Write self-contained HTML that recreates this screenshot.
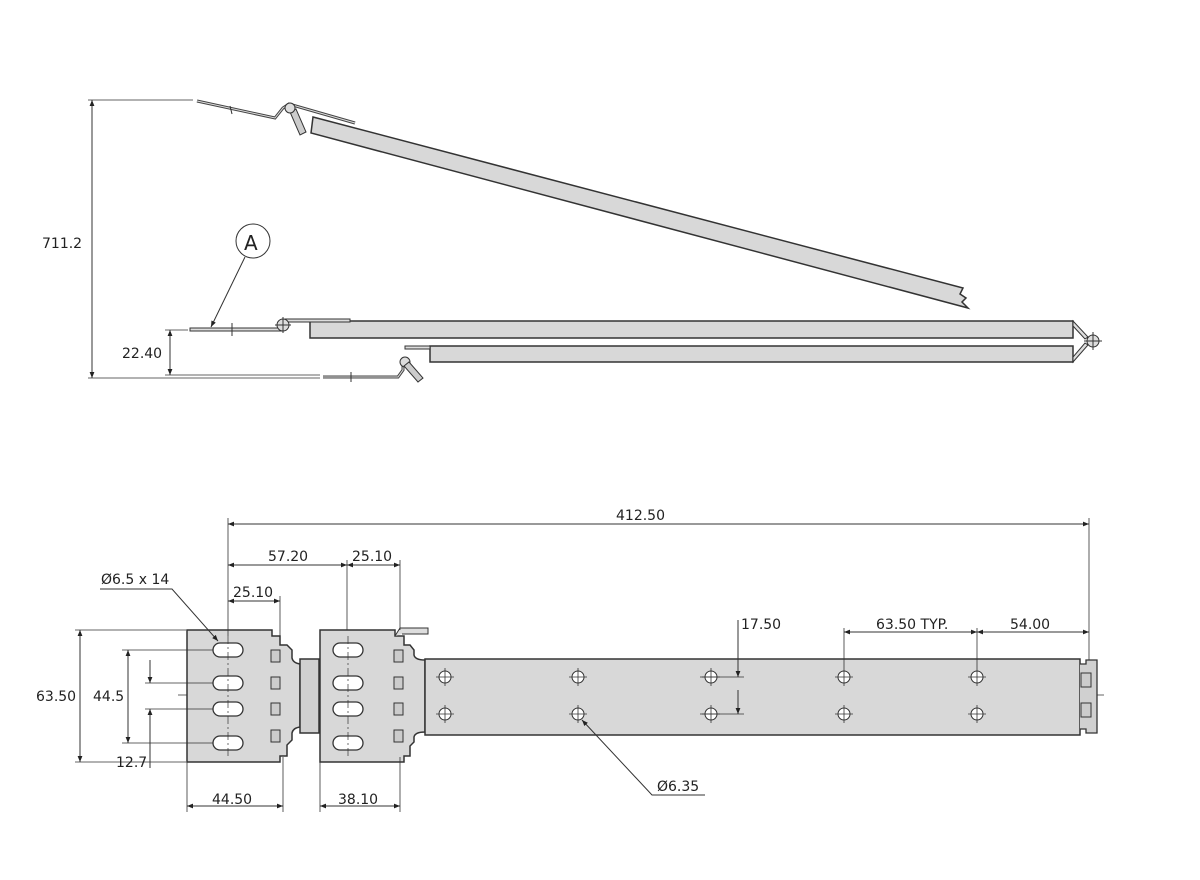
<!DOCTYPE html>
<html><head><meta charset="utf-8"><style>
html,body{margin:0;padding:0;background:#fff;}
svg{display:block;}
text{font-family:"DejaVu Sans","Liberation Sans",sans-serif;font-size:14px;fill:#222;}
</style></head><body>
<svg width="1200" height="880" viewBox="0 0 1200 880" xmlns="http://www.w3.org/2000/svg">
<defs>
<marker id="a" viewBox="0 0 10 10" refX="10" refY="5" markerWidth="8" markerHeight="6" orient="auto-start-reverse" markerUnits="userSpaceOnUse"><path d="M0,1 L10,5 L0,9 z" fill="#222"/></marker>
</defs>
<g stroke="#333" stroke-width="1" fill="none">
<!-- ===== TOP VIEW ===== -->
<!-- sloped rail -->
<polygon points="313,117 963,288 960,294 966,298 962,302 968,308 311,133" fill="#d8d8d8" stroke="#333" stroke-width="1.5"/>
<polyline points="197,101 275,118 283,108 289,104 355,123" stroke-width="3" stroke="#444"/>
<polyline points="197,101 275,118 283,108 289,104 355,123" stroke-width="1" stroke="#ddd"/>
<polygon points="290,112 296,109 306,132 300,135" fill="#ccc"/>
<circle cx="290" cy="108" r="5" fill="#ddd"/>
<line x1="230" y1="106" x2="232" y2="114"/>
<!-- middle rail -->
<rect x="310" y="321" width="763" height="17" fill="#d8d8d8" stroke-width="1.5"/>
<rect x="285" y="319" width="65" height="3" fill="#ddd"/>
<rect x="190" y="328" width="92" height="3" fill="#ddd"/>
<line x1="232" y1="323" x2="232" y2="336"/>
<circle cx="283" cy="325" r="6" fill="#ddd"/>
<line x1="275" y1="325" x2="291" y2="325"/><line x1="283" y1="317" x2="283" y2="333"/>
<!-- bottom rail -->
<rect x="430" y="346" width="643" height="16" fill="#d8d8d8" stroke-width="1.5"/>
<rect x="405" y="346" width="25" height="3" fill="#ddd"/>
<polyline points="323,377 398,377 403,370 403,360" stroke-width="3" stroke="#444"/>
<polyline points="323,377 398,377 403,370 403,360" stroke-width="1" stroke="#ddd"/>
<line x1="351" y1="372" x2="351" y2="382"/>
<circle cx="405" cy="362" r="5" fill="#ddd"/>
<polygon points="404,366 409,362 423,378 418,382" fill="#ccc"/>
<!-- right end -->
<polygon points="1073,321 1088,337 1085,339 1073,326" fill="#ddd"/>
<polygon points="1073,362 1088,345 1085,343 1073,357" fill="#ddd"/>
<circle cx="1093" cy="341" r="6" fill="#ddd"/>
<line x1="1084" y1="341" x2="1102" y2="341"/><line x1="1093" y1="332" x2="1093" y2="350"/>
<!-- dims top -->
<line x1="88" y1="100" x2="193" y2="100" stroke-width="0.8"/>
<line x1="88" y1="378" x2="320" y2="378" stroke-width="0.8"/>
<line x1="92" y1="100" x2="92" y2="378" marker-start="url(#a)" marker-end="url(#a)"/>
<line x1="165" y1="330" x2="188" y2="330" stroke-width="0.8"/>
<line x1="165" y1="375" x2="320" y2="375" stroke-width="0.8"/>
<line x1="170" y1="330" x2="170" y2="375" marker-start="url(#a)" marker-end="url(#a)"/>
<circle cx="253" cy="241" r="17" fill="#fff"/>
<line x1="245" y1="257" x2="211" y2="327" marker-end="url(#a)"/>

<!-- ===== BOTTOM VIEW ===== -->
<!-- centerline -->
<line x1="178" y1="695" x2="1106" y2="695" stroke-dasharray="14,4,2,4" stroke-width="0.8"/>
<!-- block 1 -->
<path d="M187,630 H272 V636 H280 V645 H287 L292,650 V658 Q293,663 300,664 V727 Q293,728 292,733 V740 L287,745 V756 H280 V762 H187 Z" fill="#d8d8d8" stroke-width="1.5"/>
<rect x="300" y="659" width="19" height="74" fill="#d0d0d0" stroke-width="1.5"/>
<!-- block 2 -->
<path d="M320,630 H395 V636 H404 V645 H410 L414,650 V655 Q415,660 425,660 V732 Q415,732 414,737 V742 L410,746 V756 H404 V762 H320 Z" fill="#d8d8d8" stroke-width="1.5"/>
<path d="M395,636 L400,628 H428 V634 H402" fill="#ddd"/>
<!-- tabs -->
<g fill="#ccc" stroke-width="1">
<rect x="271" y="650" width="9" height="12"/><rect x="271" y="677" width="9" height="12"/><rect x="271" y="703" width="9" height="12"/><rect x="271" y="730" width="9" height="12"/>
<rect x="394" y="650" width="9" height="12"/><rect x="394" y="677" width="9" height="12"/><rect x="394" y="703" width="9" height="12"/><rect x="394" y="730" width="9" height="12"/>
</g>
<!-- slots -->
<g fill="#fff" stroke-width="1.3">
<rect x="213" y="643" width="30" height="14" rx="7"/><rect x="213" y="676" width="30" height="14" rx="7"/><rect x="213" y="702" width="30" height="14" rx="7"/><rect x="213" y="736" width="30" height="14" rx="7"/>
<rect x="333" y="643" width="30" height="14" rx="7"/><rect x="333" y="676" width="30" height="14" rx="7"/><rect x="333" y="702" width="30" height="14" rx="7"/><rect x="333" y="736" width="30" height="14" rx="7"/>
</g>
<line x1="228" y1="636" x2="228" y2="756" stroke-dasharray="8,3,2,3" stroke-width="0.7"/>
<line x1="348" y1="636" x2="348" y2="756" stroke-dasharray="8,3,2,3" stroke-width="0.7"/>
<!-- main rail -->
<rect x="425" y="659" width="655" height="76" fill="#d8d8d8" stroke-width="1.5"/>
<path d="M1080,664 H1086 V660 H1097 V733 H1086 V729 H1080" fill="#d0d0d0" stroke-width="1.3"/>
<rect x="1081" y="673" width="10" height="14" fill="#ccc"/><rect x="1081" y="703" width="10" height="14" fill="#ccc"/>
<g fill="#fff" stroke-width="1">
<circle cx="445" cy="677" r="6"/><circle cx="578" cy="677" r="6"/><circle cx="711" cy="677" r="6"/><circle cx="844" cy="677" r="6"/><circle cx="977" cy="677" r="6"/>
<circle cx="445" cy="714" r="6"/><circle cx="578" cy="714" r="6"/><circle cx="711" cy="714" r="6"/><circle cx="844" cy="714" r="6"/><circle cx="977" cy="714" r="6"/>
</g>
<g stroke-width="0.8">
<path d="M436,677h18M445,668v18M569,677h18M578,668v18M702,677h18M711,668v18M835,677h18M844,668v18M968,677h18M977,668v18"/>
<path d="M436,714h18M445,705v18M569,714h18M578,705v18M702,714h18M711,705v18M835,714h18M844,705v18M968,714h18M977,705v18"/>
</g>
<!-- dims bottom -->
<g stroke-width="0.8">
<line x1="228" y1="518" x2="228" y2="636"/>
<line x1="1089" y1="518" x2="1089" y2="660"/>
<line x1="347" y1="560" x2="347" y2="630"/>
<line x1="400" y1="560" x2="400" y2="630"/>
<line x1="280" y1="596" x2="280" y2="640"/>
<line x1="844" y1="628" x2="844" y2="668"/>
<line x1="977" y1="628" x2="977" y2="668"/>
<line x1="75" y1="630" x2="186" y2="630"/>
<line x1="75" y1="762" x2="186" y2="762"/>
<line x1="122" y1="650" x2="213" y2="650"/>
<line x1="122" y1="743" x2="213" y2="743"/>
<line x1="145" y1="683" x2="213" y2="683"/>
<line x1="145" y1="709" x2="213" y2="709"/>
<line x1="187" y1="762" x2="187" y2="812"/>
<line x1="283" y1="757" x2="283" y2="812"/>
<line x1="320" y1="762" x2="320" y2="812"/>
<line x1="400" y1="757" x2="400" y2="812"/>
<line x1="700" y1="677" x2="744" y2="677"/>
<line x1="700" y1="714" x2="744" y2="714"/>
</g>
<line x1="228" y1="524" x2="1089" y2="524" marker-start="url(#a)" marker-end="url(#a)"/>
<line x1="228" y1="565" x2="347" y2="565" marker-start="url(#a)" marker-end="url(#a)"/>
<line x1="347" y1="565" x2="400" y2="565" marker-start="url(#a)" marker-end="url(#a)"/>
<line x1="228" y1="601" x2="280" y2="601" marker-start="url(#a)" marker-end="url(#a)"/>
<line x1="80" y1="630" x2="80" y2="762" marker-start="url(#a)" marker-end="url(#a)"/>
<line x1="128" y1="650" x2="128" y2="743" marker-start="url(#a)" marker-end="url(#a)"/>
<line x1="150" y1="660" x2="150" y2="683" marker-end="url(#a)"/>
<line x1="150" y1="768" x2="150" y2="709" marker-end="url(#a)"/>
<line x1="187" y1="806" x2="283" y2="806" marker-start="url(#a)" marker-end="url(#a)"/>
<line x1="320" y1="806" x2="400" y2="806" marker-start="url(#a)" marker-end="url(#a)"/>
<line x1="844" y1="632" x2="977" y2="632" marker-start="url(#a)" marker-end="url(#a)"/>
<line x1="977" y1="632" x2="1089" y2="632" marker-start="url(#a)" marker-end="url(#a)"/>
<line x1="738" y1="620" x2="738" y2="677" marker-end="url(#a)"/>
<line x1="738" y1="714" x2="738" y2="690" />
<line x1="738" y1="690" x2="738" y2="714" marker-end="url(#a)"/>
<polyline points="100,589 172,589 218,641" marker-end="url(#a)"/>
<polyline points="705,795 652,795 582,720" marker-end="url(#a)"/>
</g>
<text x="42" y="248">711.2</text>
<text x="122" y="358">22.40</text>
<text x="244" y="250" style="font-size:20px">A</text>
<text x="616" y="520">412.50</text>
<text x="268" y="561">57.20</text>
<text x="352" y="561">25.10</text>
<text x="233" y="597">25.10</text>
<text x="101" y="584">Ø6.5 x 14</text>
<text x="36" y="701">63.50</text>
<text x="93" y="701">44.5</text>
<text x="116" y="767">12.7</text>
<text x="212" y="804">44.50</text>
<text x="338" y="804">38.10</text>
<text x="741" y="629">17.50</text>
<text x="876" y="629">63.50 TYP.</text>
<text x="1010" y="629">54.00</text>
<text x="657" y="791">Ø6.35</text>
</svg>
</body></html>
